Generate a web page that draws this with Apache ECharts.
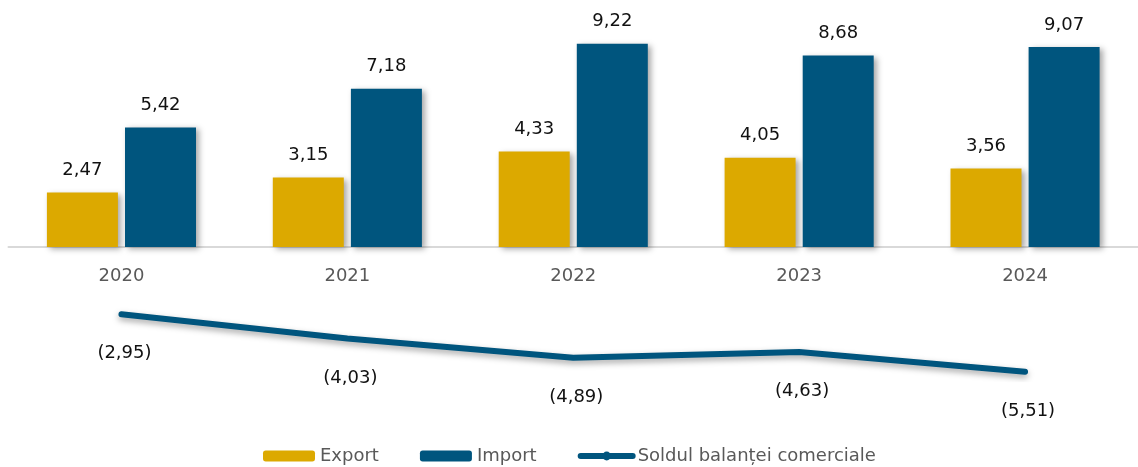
<!DOCTYPE html>
<html>
<head>
<meta charset="utf-8">
<script src="https://cdn.jsdelivr.net/npm/echarts@6/dist/echarts.min.js"></script>
<style>html,body{margin:0;padding:0;background:#fff}#c{width:1138px;height:467px}</style>
</head>
<body>
<div id="c"></div>
<script>
var years = ['2020', '2021', '2022', '2023', '2024'];
var exportVals = [2.47, 3.15, 4.33, 4.05, 3.56];
var importVals = [5.42, 7.18, 9.22, 8.68, 9.07];
var balanceVals = [-2.95, -4.03, -4.89, -4.63, -5.51];
var seriesNames = ['Export', 'Import', 'Soldul balanței comerciale'];

function fmt(v) { return Math.abs(v).toFixed(2).replace('.', ','); }
var FONT = 'DejaVu Sans';
var BLUE = '#00557E', GOLD = '#DCA900';
var chart = echarts.init(document.getElementById('c'));
chart.setOption({
  animation: false,
  textStyle: { fontFamily: FONT },
  grid: [
    { left: 8.5, top: 26.5, width: 1140, height: 220.5 },
    { left: 8.5, top: 26.5, width: 1140, height: 352.8 }
  ],
  legend: {
    left: 263, top: 447, padding: 0,
    itemWidth: 52, itemHeight: 11, itemGap: 41,
    textStyle: { fontFamily: FONT, fontSize: 18, color: '#595959' },
    data: [
      { name: seriesNames[0] },
      { name: seriesNames[1] },
      { name: seriesNames[2], lineStyle: { width: 6, color: BLUE }, itemStyle: { color: BLUE } }
    ]
  },
  xAxis: [
    {
      type: 'category', data: years, gridIndex: 0,
      axisLine: { lineStyle: { color: '#d9d9d9', width: 2 } },
      axisTick: { show: false },
      axisLabel: { margin: 20, fontSize: 18, color: '#595959', fontFamily: FONT }
    },
    { type: 'category', data: years, gridIndex: 1, show: false }
  ],
  yAxis: [
    { type: 'value', gridIndex: 0, min: 0, max: 10, show: false, splitLine: { show: false } },
    { type: 'value', gridIndex: 1, min: -5.85, max: 9.89, show: false, splitLine: { show: false } }
  ],
  series: [
    {
      name: seriesNames[0], type: 'bar', data: exportVals, barWidth: 71, barGap: '10%',
      itemStyle: { color: GOLD, shadowColor: 'rgba(0,0,0,0.35)', shadowBlur: 6, shadowOffsetX: 3, shadowOffsetY: 2 },
      label: { show: true, position: 'top', distance: 13, fontSize: 18, color: '#111', fontFamily: FONT, formatter: function (p) { return fmt(p.value); } }
    },
    {
      name: seriesNames[1], type: 'bar', data: importVals, barWidth: 71, barGap: '10%',
      itemStyle: { color: BLUE, shadowColor: 'rgba(0,0,0,0.35)', shadowBlur: 6, shadowOffsetX: 3, shadowOffsetY: 2 },
      label: { show: true, position: 'top', distance: 13, fontSize: 18, color: '#111', fontFamily: FONT, formatter: function (p) { return fmt(p.value); } }
    },
    {
      name: seriesNames[2], type: 'line', xAxisIndex: 1, yAxisIndex: 1, data: balanceVals,
      symbol: 'circle', symbolSize: 1, showSymbol: true,
      itemStyle: { color: BLUE },
      lineStyle: { color: BLUE, width: 6, cap: 'round', shadowColor: 'rgba(0,0,0,0.35)', shadowBlur: 6, shadowOffsetY: 3 },
      label: { show: true, position: 'bottom', distance: 30, offset: [3, 0], fontSize: 18, color: '#111', fontFamily: FONT, formatter: function (p) { return '(' + fmt(p.value) + ')'; } },
      z: 3
    }
  ]
});
</script>
</body>
</html>
